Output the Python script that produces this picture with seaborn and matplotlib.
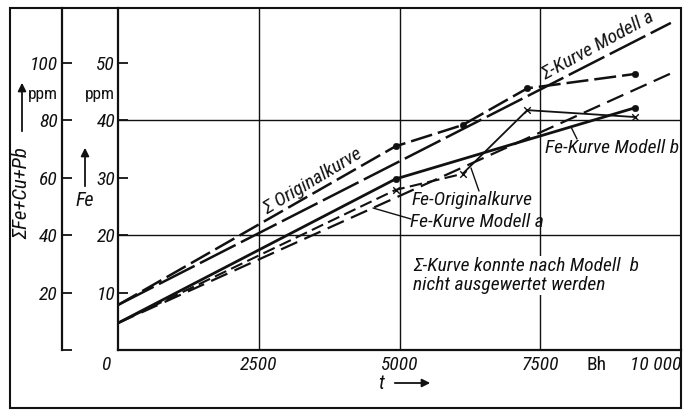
import matplotlib
matplotlib.use("Agg")
import matplotlib.pyplot as plt
import matplotlib.transforms as mtransforms
import seaborn as sns
from matplotlib.lines import Line2D
from matplotlib.patches import Rectangle

# ── Data ─────────────────────────────────────────────────────
t_orig = [0, 4930, 6120, 7270, 9180]            # Bh
sigma_orig = [15.7, 71.0, 78.4, 91.2, 96.2]     # ΣFe+Cu+Pb, ppm
fe_orig = [4.7, 27.9, 30.7, 41.8, 40.6]         # Fe, ppm

t_model_a = [0, 9820]
sigma_model_a = [15.7, 114.0]
fe_model_a = [4.7, 48.2]

t_model_b = [0, 4930, 9180]
fe_model_b = [4.7, 29.8, 42.2]

x_ticks = [0, 2500, 5000, 7500, 8500, 10000]
x_labels = ['0', '2500', '5000', '7500', 'Bh', '10 000']
fe_ticks = [10, 20, 30, 40, 50]
sigma_ticks = [0, 20, 40, 60, 80, 100]
sigma_labels = ['', '20', '40', '60', '80', '100']
grid_t = [2500, 5000, 7500]
grid_fe = [20, 40]

# ── Style ────────────────────────────────────────────────────
sns.set_theme(style='white')
plt.rcParams['font.family'] = ['Roboto Condensed', 'Liberation Sans Narrow',
                               'Liberation Sans', 'DejaVu Sans']
plt.rcParams['font.style'] = 'italic'
plt.rcParams['text.color'] = '#111111'
plt.rcParams['xtick.color'] = '#111111'
plt.rcParams['ytick.color'] = '#111111'
plt.rcParams['axes.edgecolor'] = '#111111'

W, H = 690, 411
INK = '#111111'
FS = 14
LFS = 14


def fp(x, y):
    # scan pixel -> figure fraction
    return (x / W, 1 - y / H)


fig = plt.figure(figsize=(6.9, 4.11), dpi=100)
fig.patch.set_facecolor('white')
ax = fig.add_axes([118 / W, 1 - 350 / H, (681 - 118) / W, (350 - 8) / H])
ax.set_xlim(0, 10000)
ax.set_ylim(0, 59.6)

# second (Σ) scale, drawn as its own spine further left
ax2 = ax.twinx()
ax2.set_ylim(0, 119.2)
ax2.yaxis.tick_left()
ax2.spines['left'].set_position(('outward', 56 * 72 / 100))

for a in (ax, ax2):
    for s in ('top', 'right'):
        a.spines[s].set_visible(False)
    a.spines['left'].set_linewidth(1.6)
ax.spines['bottom'].set_linewidth(1.6)
ax2.spines['bottom'].set_visible(False)

# ── Grid ─────────────────────────────────────────────────────
for g in grid_t:
    ax.axvline(g, color=INK, lw=1.0, zorder=1)
for g in grid_fe:
    ax.axhline(g, color=INK, lw=1.0, zorder=1)

# ── Curves ───────────────────────────────────────────────────
def draw(a, t, v, ls, lw):
    sns.lineplot(x=t, y=v, ax=a, color=INK, linestyle=ls, linewidth=lw,
                 sort=False, estimator=None, legend=False)

# Σ curves on the Σ scale
draw(ax2, t_orig, sigma_orig, (0, (8.8, 2.4)), 1.8)
draw(ax2, t_model_a, sigma_model_a, (0, (16, 2.4)), 1.8)
sns.scatterplot(x=t_orig[1:], y=sigma_orig[1:], ax=ax2, color=INK,
                marker='o', s=22, edgecolor=INK, zorder=5, legend=False)

# Fe curves on the Fe scale
draw(ax, t_orig[:3], fe_orig[:3], (0, (6, 2.6)), 1.5)
draw(ax, t_orig[2:], fe_orig[2:], '-', 1.3)
draw(ax, t_model_a, fe_model_a, (0, (8, 3.5)), 1.6)
draw(ax, t_model_b, fe_model_b, '-', 2.0)
sns.scatterplot(x=t_model_b[1:], y=fe_model_b[1:], ax=ax, color=INK,
                marker='o', s=22, edgecolor=INK, zorder=5, legend=False)
sns.scatterplot(x=t_orig[1:], y=fe_orig[1:], ax=ax, color=INK,
                marker='x', s=22, linewidth=1.0, zorder=5, legend=False)

# ── Ticks ────────────────────────────────────────────────────
ax.set_yticks(fe_ticks)
ax.set_yticklabels([str(v) for v in fe_ticks])
ax.tick_params(axis='y', direction='in', length=7.2, width=1.3,
               labelsize=FS, pad=2, left=True)
ax2.set_yticks(sigma_ticks)
ax2.set_yticklabels(sigma_labels)
ax2.tick_params(axis='y', direction='in', length=7.2, width=1.3,
                labelsize=FS, pad=3, left=True, right=False,
                labelleft=True, labelright=False)

ax.set_xticks(x_ticks)
ax.set_xticklabels(x_labels)
ax.tick_params(axis='x', length=0, labelsize=FS, pad=4)
xl = ax.get_xticklabels()
xl[0].set_ha('right')
xl[0].set_transform(xl[0].get_transform() +
                    mtransforms.ScaledTranslation(-0.08, 0, fig.dpi_scale_trans))
xl[4].set_style('normal')
xl[-1].set_ha('right')
ax.set_xlabel('')
ax.set_ylabel('')
ax2.set_ylabel('')

# ── Axis titles ──────────────────────────────────────────────
fig.text(*fp(115, 94), 'ppm', ha='right', va='center', fontsize=12.5, style='normal')
fig.text(*fp(58, 94), 'ppm', ha='right', va='center', fontsize=12.5, style='normal')
fig.text(*fp(85, 201), 'Fe', ha='center', va='center', fontsize=FS + 0.5)
fig.text(*fp(22, 193), 'ΣFe+Cu+Pb', ha='center', va='center', fontsize=FS + 1,
         rotation=90)
fig.text(*fp(381, 383), 't', ha='center', va='center', fontsize=FS + 0.5)

arrow = dict(arrowstyle='-|>', lw=1.3, color=INK, mutation_scale=12)
ax.annotate('', xy=fp(85, 145), xytext=fp(85, 189), xycoords='figure fraction',
            textcoords='figure fraction', arrowprops=arrow)
ax.annotate('', xy=fp(22, 80), xytext=fp(22, 134), xycoords='figure fraction',
            textcoords='figure fraction', arrowprops=arrow)
ax.annotate('', xy=fp(433, 383), xytext=fp(392, 383), xycoords='figure fraction',
            textcoords='figure fraction', arrowprops=arrow)

# ── Curve labels ─────────────────────────────────────────────
fig.text(*fp(313, 181), 'Σ Originalkurve', ha='center', va='center',
         fontsize=LFS, rotation=31)
fig.text(*fp(598, 46), 'Σ-Kurve Modell a', ha='center', va='center',
         fontsize=LFS, rotation=28.5)
fig.text(*fp(545, 148), 'Fe-Kurve Modell b', ha='left', va='center', fontsize=LFS)
fig.text(*fp(412, 200), 'Fe-Originalkurve', ha='left', va='center', fontsize=LFS)
fig.text(*fp(410, 222), 'Fe-Kurve Modell a', ha='left', va='center', fontsize=LFS)
box = dict(facecolor='white', edgecolor='none', pad=1)
fig.text(*fp(413, 266), 'Σ-Kurve konnte nach Modell  b', ha='left', va='center',
         fontsize=LFS, bbox=box)
fig.text(*fp(413, 285), 'nicht ausgewertet werden', ha='left', va='center',
         fontsize=LFS, bbox=box)

# leader lines
for (x0, y0), (x1, y1) in [((479, 191), (471, 168)),
                           ((411, 219), (373, 208)),
                           ((577, 139), (571, 127))]:
    (a0, b0), (a1, b1) = fp(x0, y0), fp(x1, y1)
    fig.add_artist(Line2D([a0, a1], [b0, b1], color=INK, lw=1.0))

# outer frame
fig.add_artist(Rectangle(fp(10, 408), (681 - 10) / W, (408 - 8) / H,
                         fill=False, edgecolor=INK, lw=1.5,
                         transform=fig.transFigure))

fig.savefig('out.png', dpi=100, facecolor='white')
